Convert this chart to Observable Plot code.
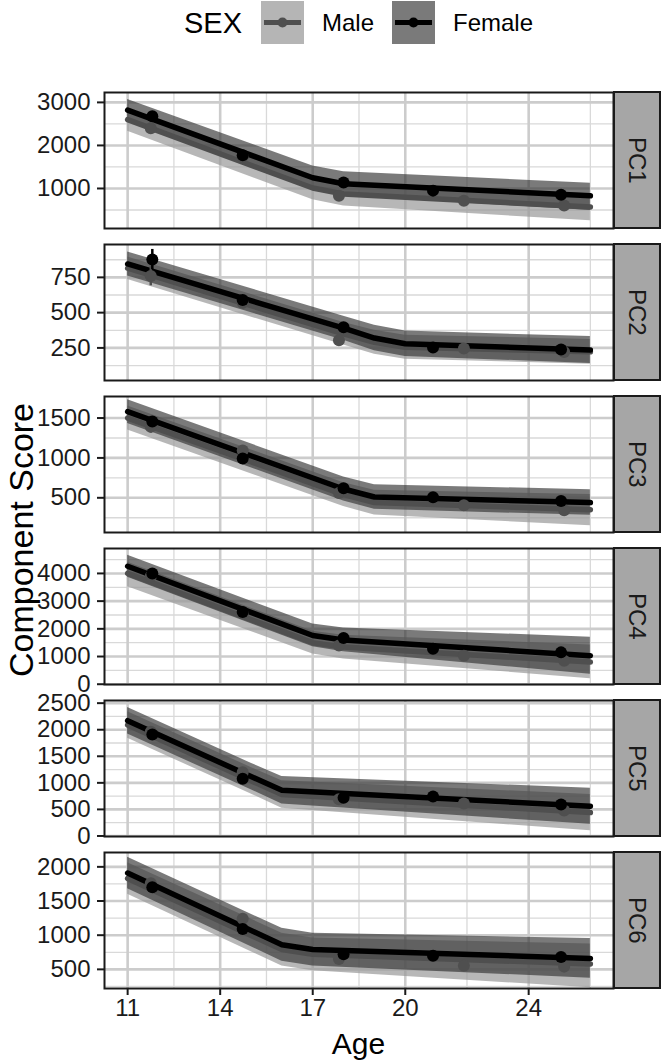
<!DOCTYPE html>
<html><head><meta charset="utf-8">
<script src="https://cdn.jsdelivr.net/npm/d3@7"></script>
<script src="https://cdn.jsdelivr.net/npm/@observablehq/plot@0.6"></script>
<style>
body{margin:0;background:#fff;font-family:"Liberation Sans",Arial,sans-serif;color:#000;}
#chart{position:relative;width:661px;height:1061px;overflow:hidden;background:#fff;}
.abs{position:absolute;white-space:nowrap;}
.strip{position:absolute;box-sizing:border-box;background:#a6a6a6;border:2px solid #1a1a1a;display:flex;align-items:center;justify-content:center;}
.strip span{writing-mode:vertical-rl;font-size:24px;color:#1a1a1a;}
.key{position:absolute;width:43px;height:43px;}
</style></head><body><div id="chart"></div>
<script>
// ---------- data ----------
const panelNames = ["PC1", "PC2", "PC3", "PC4", "PC5", "PC6"];
const sexes = ["Male", "Female"];
const xBreaks = [11, 14, 17, 20, 24];
const xMinor = [12.5, 15.5, 18.5, 22, 26];
const yBreaks = [
  [1000, 2000, 3000],
  [250, 500, 750],
  [500, 1000, 1500],
  [0, 1000, 2000, 3000, 4000],
  [0, 500, 1000, 1500, 2000, 2500],
  [500, 1000, 1500, 2000]
];
const yMinor = [
  [500, 1500, 2500],
  [125, 375, 625, 875],
  [250, 750, 1250],
  [500, 1500, 2500, 3500, 4500],
  [250, 750, 1250, 1750, 2250],
  [250, 750, 1250, 1750]
];
const yLimits = [[70, 3230], [19, 983], [65, 1770], [-10, 4900], [-10, 2550], [220, 2210]];

// fitted trajectories (knot ages and values)
const fitAges = [
  [11, 17, 18, 26],
  [11, 18, 19, 20, 26],
  [11, 18, 19, 26],
  [11, 17, 18, 26],
  [11, 15, 16, 26],
  [11, 16, 17, 26]
];
const femaleFit = [
  [2820, 1250, 1110, 830],
  [845, 390, 320, 280, 235],
  [1580, 610, 510, 440],
  [4260, 1760, 1600, 1030],
  [2170, 1120, 860, 560],
  [1910, 860, 790, 660]
];
const femaleLo = [
  [2560, 980, 830, 490],
  [760, 305, 230, 190, 140],
  [1430, 460, 355, 280],
  [3860, 1350, 1170, 360],
  [1920, 870, 600, 220],
  [1680, 620, 550, 370]
];
const femaleHi = [
  [3070, 1520, 1390, 1120],
  [930, 475, 410, 370, 330],
  [1730, 760, 665, 600],
  [4660, 2170, 2030, 1700],
  [2420, 1370, 1120, 900],
  [2140, 1100, 1030, 950]
];
const maleFit = [
  [2600, 1010, 870, 570],
  [815, 350, 290, 255, 222],
  [1500, 540, 440, 350],
  [4000, 1500, 1340, 800],
  [2090, 1040, 780, 440],
  [1830, 790, 720, 580]
];
const maleLo = [
  [2330, 740, 590, 250],
  [735, 270, 205, 170, 135],
  [1350, 390, 285, 150],
  [3520, 1090, 910, 200],
  [1840, 790, 520, 100],
  [1600, 550, 480, 230]
];
const maleHi = [
  [2860, 1280, 1150, 880],
  [895, 430, 375, 340, 310],
  [1650, 690, 595, 540],
  [4400, 1910, 1770, 1420],
  [2340, 1290, 1040, 780],
  [2060, 1030, 960, 870]
];

// observed means with error bars
const femaleObsAge = [11.8, 14.73, 18.0, 20.9, 25.05];
const maleObsAge = [11.75, 14.73, 17.85, 21.9, 25.15];
const femaleObs = [
  [2680, 1770, 1140, 950, 855],
  [876, 590, 396, 253, 239],
  [1456, 994, 619, 506, 460],
  [4000, 2604, 1673, 1280, 1150],
  [1908, 1075, 718, 743, 592],
  [1700, 1090, 722, 698, 682]
];
const femaleErr = [
  [60, 50, 40, 40, 40],
  [72, 25, 20, 15, 15],
  [50, 40, 30, 30, 30],
  [80, 60, 50, 50, 50],
  [50, 40, 30, 30, 30],
  [50, 40, 30, 30, 30]
];
const maleObs = [
  [2400, 1740, 830, 715, 606],
  [760, 570, 305, 246, 221],
  [1390, 1094, 560, 406, 344],
  [3900, 2550, 1400, 1030, 847],
  [1960, 1200, 690, 611, 480],
  [1760, 1240, 652, 552, 540]
];
const maleErr = [
  [60, 50, 40, 40, 40],
  [70, 25, 20, 15, 15],
  [80, 40, 30, 30, 30],
  [80, 60, 50, 50, 50],
  [50, 40, 30, 30, 30],
  [50, 40, 30, 30, 30]
];

// ---------- layout / style ----------
const W = 661;
const panelLeft = 104, panelRight = 613;
const panelTop0 = 92, panelH = 136, panelGap = 16;
const xDomain = [10.25, 26.75];
const font = '"Liberation Sans", Arial, sans-serif';
const col = {
  Male: {fill: "#999999", fillOpacity: 0.7, line: "#4f4f4f", key: "#b5b5b5"},
  Female: {fill: "#333333", fillOpacity: 0.65, line: "#000000", key: "#7a7a7a"}
};

const chart = document.getElementById("chart");

function fitRows(k, fit, lo, hi) {
  return fitAges[k].map((a, i) => ({age: a, fit: fit[k][i], lo: lo[k][i], hi: hi[k][i]}));
}
function obsRows(k, ages, obs, err) {
  return ages.map((a, i) => ({age: a, v: obs[k][i], lo: obs[k][i] - err[k][i], hi: obs[k][i] + err[k][i]}));
}

panelNames.forEach((name, k) => {
  const top = panelTop0 + k * (panelH + panelGap);
  const last = k === panelNames.length - 1;
  const mt = 8, mb = last ? 45 : 8;
  const fM = fitRows(k, maleFit, maleLo, maleHi);
  const fF = fitRows(k, femaleFit, femaleLo, femaleHi);
  const oM = obsRows(k, maleObsAge, maleObs, maleErr);
  const oF = obsRows(k, femaleObsAge, femaleObs, femaleErr);
  const marks = [
    Plot.ruleX(xMinor, {stroke: "#d9d9d9", strokeWidth: 1.3}),
    Plot.ruleY(yMinor[k], {stroke: "#d9d9d9", strokeWidth: 1.3}),
    Plot.ruleX(xBreaks, {stroke: "#cccccc", strokeWidth: 2.6}),
    Plot.ruleY(yBreaks[k], {stroke: "#cccccc", strokeWidth: 2.6}),
    Plot.areaY(fM, {x: "age", y1: "lo", y2: "hi", fill: col.Male.fill, fillOpacity: col.Male.fillOpacity}),
    Plot.areaY(fF, {x: "age", y1: "lo", y2: "hi", fill: col.Female.fill, fillOpacity: col.Female.fillOpacity}),
    Plot.line(fM, {x: "age", y: "fit", stroke: col.Male.line, strokeWidth: 5.5}),
    Plot.line(fF, {x: "age", y: "fit", stroke: col.Female.line, strokeWidth: 5.5}),
    Plot.ruleX(oM, {x: "age", y1: "lo", y2: "hi", stroke: col.Male.line, strokeWidth: 2.5}),
    Plot.dot(oM, {x: "age", y: "v", r: 6, fill: col.Male.line, stroke: "none"}),
    Plot.ruleX(oF, {x: "age", y1: "lo", y2: "hi", stroke: col.Female.line, strokeWidth: 2.5}),
    Plot.dot(oF, {x: "age", y: "v", r: 6, fill: col.Female.line, stroke: "none"}),
    Plot.frame({stroke: "#1a1a1a", strokeWidth: 2}),
    Plot.axisY(yBreaks[k], {tickSize: 7, tickPadding: 7, fontSize: 24, strokeWidth: 2, stroke: "#1a1a1a", fill: "#1a1a1a", tickFormat: d => String(d), label: null})
  ];
  if (last) {
    marks.push(Plot.axisX(xBreaks, {tickSize: 7, tickPadding: 3, fontSize: 24, strokeWidth: 2, stroke: "#1a1a1a", fill: "#1a1a1a", tickFormat: d => String(d), label: null}));
  }
  const svg = Plot.plot({
    width: W,
    height: panelH + mt + mb,
    marginTop: mt, marginBottom: mb,
    marginLeft: panelLeft, marginRight: W - panelRight,
    x: {domain: xDomain, axis: null},
    y: {domain: yLimits[k], axis: null},
    style: {fontFamily: font, background: "transparent", overflow: "visible", color: "#1a1a1a"},
    marks
  });
  svg.style.position = "absolute";
  svg.style.left = "0px";
  svg.style.top = (top - mt) + "px";
  chart.appendChild(svg);

  const strip = document.createElement("div");
  strip.className = "strip";
  strip.style.left = (panelRight) + "px";
  strip.style.top = (top - 1) + "px";
  strip.style.width = (W - panelRight) + "px";
  strip.style.height = (panelH + 2) + "px";
  strip.innerHTML = `<span>${name}</span>`;
  chart.appendChild(strip);
});

// axis titles
const lastBottom = panelTop0 + 6 * panelH + 5 * panelGap;
const yTitle = document.createElement("div");
yTitle.className = "abs";
yTitle.textContent = "Component Score";
yTitle.style.cssText += `font-size:34px;left:21px;top:${(panelTop0 + lastBottom) / 2}px;transform:translate(-50%,-50%) rotate(-90deg);`;
chart.appendChild(yTitle);

const xTitle = document.createElement("div");
xTitle.className = "abs";
xTitle.textContent = "Age";
xTitle.style.cssText += `font-size:30px;left:${(panelLeft + panelRight) / 2}px;top:1044px;transform:translate(-50%,-50%);`;
chart.appendChild(xTitle);

// legend
const legendTitle = document.createElement("div");
legendTitle.className = "abs";
legendTitle.textContent = "SEX";
legendTitle.style.cssText += "font-size:29px;left:184px;top:23px;transform:translateY(-50%);";
chart.appendChild(legendTitle);

const keyX = {Male: 261, Female: 392};
const labX = {Male: 322, Female: 453};
sexes.forEach(s => {
  const key = document.createElement("div");
  key.className = "key";
  key.style.left = keyX[s] + "px";
  key.style.top = "1px";
  key.style.background = col[s].key;
  key.innerHTML = `<svg width="43" height="43"><line x1="3" x2="40" y1="21.5" y2="21.5" stroke="${col[s].line}" stroke-width="5"/><circle cx="21.5" cy="21.5" r="5" fill="${col[s].line}"/></svg>`;
  chart.appendChild(key);
  const lab = document.createElement("div");
  lab.className = "abs";
  lab.textContent = s;
  lab.style.cssText += `font-size:24px;left:${labX[s]}px;top:23px;transform:translateY(-50%);`;
  chart.appendChild(lab);
});
</script></body></html>
